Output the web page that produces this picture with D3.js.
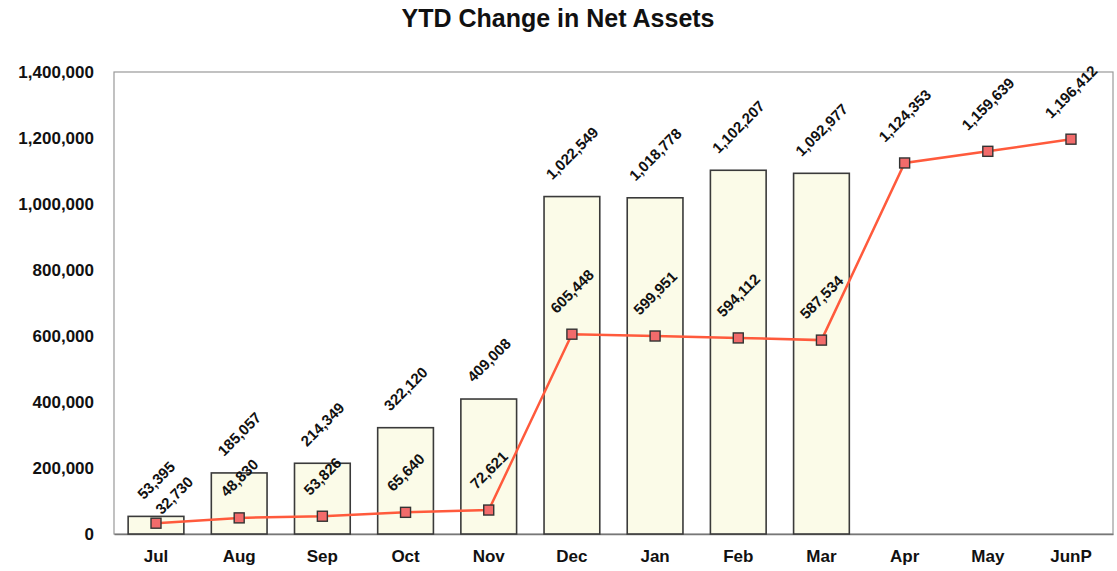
<!DOCTYPE html>
<html>
<head>
<meta charset="utf-8">
<script src="https://cdn.jsdelivr.net/npm/d3@7"></script>
<style>
  body { margin: 0; background: #fff; }
  svg text { font-family: "Liberation Sans", Arial, sans-serif; font-weight: bold; fill: #111; }
</style>
</head>
<body>
<div id="chart"></div>
<script>
// Months on the x axis
const months = ["Jul", "Aug", "Sep", "Oct", "Nov", "Dec", "Jan", "Feb", "Mar", "Apr", "May", "JunP"];
// Bars (only through Mar)
const barValues = [53395, 185057, 214349, 322120, 409008, 1022549, 1018778, 1102207, 1092977];
// Line series
const lineValues = [32730, 48830, 53826, 65640, 72621, 605448, 599951, 594112, 587534, 1124353, 1159639, 1196412];
const yTicks = [0, 200000, 400000, 600000, 800000, 1000000, 1200000, 1400000];

const width = 1117, height = 571;
const margin = { top: 72, right: 4, bottom: 37, left: 114 };
const innerW = width - margin.left - margin.right;
const innerH = height - margin.top - margin.bottom;

const svg = d3.select("#chart").append("svg")
  .attr("width", width)
  .attr("height", height);

svg.append("text")
  .attr("x", 558)
  .attr("y", 27)
  .attr("text-anchor", "middle")
  .style("font-size", "25px")
  .text("YTD Change in Net Assets");

const g = svg.append("g")
  .attr("transform", "translate(" + margin.left + "," + margin.top + ")");

const x = d3.scaleBand()
  .domain(months)
  .range([0, innerW])
  .paddingInner(0.33)
  .paddingOuter(0.17);

const y = d3.scaleLinear()
  .domain([0, 1400000])
  .range([innerH, 0]);

// plot frame
g.append("rect")
  .attr("x", 0).attr("y", 0)
  .attr("width", innerW).attr("height", innerH)
  .attr("fill", "#fff")
  .attr("stroke", "#999")
  .attr("stroke-width", 1.2);

// y axis
const yAxis = d3.axisLeft(y)
  .tickValues(yTicks)
  .tickSize(0)
  .tickPadding(20)
  .tickFormat(d3.format(","));
g.append("g").call(yAxis)
  .call(s => s.select(".domain").remove())
  .selectAll("text").style("font-size", "17px");

// x axis
const xAxis = d3.axisBottom(x).tickSize(0).tickPadding(16);
g.append("g")
  .attr("transform", "translate(0," + innerH + ")")
  .call(xAxis)
  .call(s => s.select(".domain").attr("stroke", "#777").attr("stroke-width", 1.5))
  .selectAll("text").style("font-size", "17px");

// bars
const bars = barValues.map((v, i) => ({ m: months[i], v: v }));
g.selectAll("rect.bar")
  .data(bars)
  .enter().append("rect")
  .attr("class", "bar")
  .attr("x", d => x(d.m))
  .attr("y", d => y(d.v))
  .attr("width", x.bandwidth())
  .attr("height", d => innerH - y(d.v))
  .attr("fill", "#fbfbe8")
  .attr("stroke", "#3a3a3a")
  .attr("stroke-width", 1.6);

// line
const pts = lineValues.map((v, i) => ({ m: months[i], v: v }));
const cx = d => x(d.m) + x.bandwidth() / 2;
const line = d3.line().x(cx).y(d => y(d.v));
g.append("path")
  .datum(pts)
  .attr("d", line)
  .attr("fill", "none")
  .attr("stroke", "#ff5a3c")
  .attr("stroke-width", 2.5);

g.selectAll("rect.marker")
  .data(pts)
  .enter().append("rect")
  .attr("class", "marker")
  .attr("x", d => cx(d) - 5)
  .attr("y", d => y(d.v) - 5)
  .attr("width", 10)
  .attr("height", 10)
  .attr("fill", "#f26b6b")
  .attr("stroke", "#333")
  .attr("stroke-width", 1.4);

// rotated labels: centre placed so the rotated box sits "gap" px above the anchor
const fmt = d3.format(",");
function addLabel(d, gap) {
  const t = g.append("text")
    .attr("text-anchor", "middle")
    .attr("dominant-baseline", "central")
    .style("font-size", "15px")
    .text(fmt(d.v));
  const L = t.node().getComputedTextLength();
  const off = gap + (L + 11) * 0.354;
  const c = { x: cx(d), y: y(d.v) - off };
  t.attr("transform", "translate(" + c.x + "," + c.y + ") rotate(-45)");
  return { t: t, c: c };
}

const barLabels = bars.map(d => addLabel(d, 16));
pts.forEach((d, i) => {
  const lab = addLabel(d, 20);
  const b = barLabels[i];
  if (b && Math.abs(b.c.y - lab.c.y) < 20) {
    // nudge clashing label down-right, like the original
    lab.c = { x: cx(d) + 18, y: y(d.v) - 28 };
    lab.t.attr("transform", "translate(" + lab.c.x + "," + lab.c.y + ") rotate(-45)");
  }
});
</script>
</body>
</html>
